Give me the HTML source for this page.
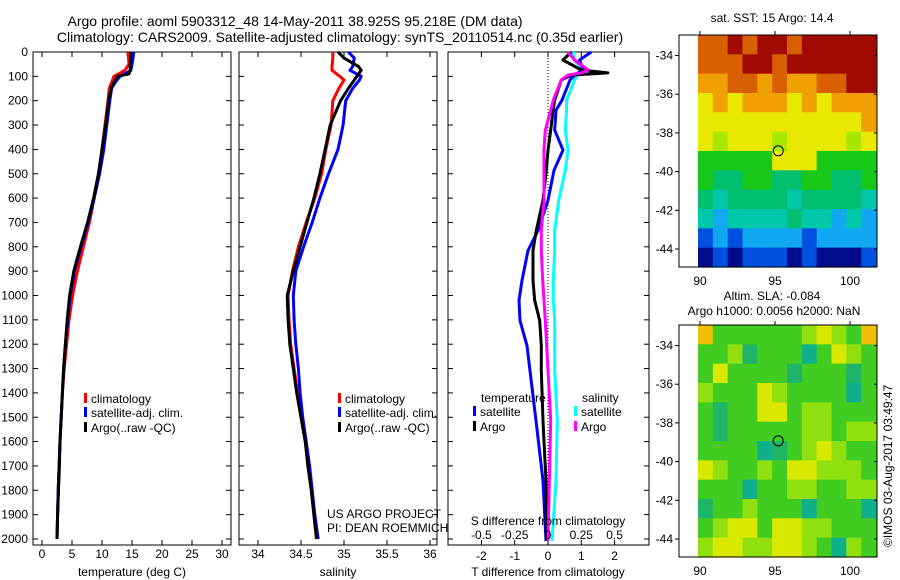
<!DOCTYPE html>
<html><head><meta charset="utf-8"><style>
html,body{margin:0;padding:0;background:#fff;}
svg{display:block;font-family:"Liberation Sans",sans-serif;}
text{font-size:12px;fill:#000;}
</style></head><body>
<svg id="c" width="900" height="580" viewBox="0 0 900 580">
<rect width="900" height="580" fill="#fff"/>
<text x="295" y="26" text-anchor="middle" style="font-size:14px">Argo profile: aoml 5903312_48 14-May-2011 38.925S 95.218E (DM data)</text>
<text x="340" y="42" text-anchor="middle" style="font-size:14px">Climatology: CARS2009. Satellite-adjusted climatology: synTS_20110514.nc (0.35d earlier)</text>
<text x="772" y="22" text-anchor="middle">sat. SST: 15 Argo: 14.4</text>
<text x="772" y="300" text-anchor="middle">Altim. SLA: -0.084</text>
<text x="774" y="315" text-anchor="middle">Argo h1000: 0.0056 h2000: NaN</text>
<text transform="translate(892,547) rotate(-90)">©IMOS 03-Aug-2017 03:49:47</text>
<text x="327" y="518">US ARGO PROJECT</text>
<text x="327" y="532">PI: DEAN ROEMMICH</text>
<g id="g"></g>
</svg>
<script>
// ---- data ----
const depthTicks=[0,100,200,300,400,500,600,700,800,900,1000,1100,1200,1300,1400,1500,1600,1700,1800,1900,2000];
const tempTicks=[0,5,10,15,20,25,30];
const salTicks=[34,34.5,35,35.5,36];
const salTickLabels=["34","34.5","35","35.5","36"];
const dTTicks=[-2,-1,0,1,2];
const dSTicks=[-0.5,-0.25,0,0.25,0.5];
const dSTickLabels=["-0.5","-0.25","0","0.25","0.5"];

const tDepth=[0,20,50,75,90,100,125,150,200,300,400,500,600,700,800,900,1000,1100,1200,1300,1400,1500,1600,1700,1800,1900,2000];
const tArgo=[14.8,14.8,14.7,14.7,14.5,12.6,12.0,11.5,11.1,10.6,10.0,9.4,8.6,7.6,6.4,5.3,4.6,4.2,3.9,3.6,3.4,3.2,3.0,2.9,2.75,2.6,2.5];
const tClim=[14.3,14.4,14.5,13.8,12.8,12.0,11.6,11.2,11.0,10.5,10.0,9.5,8.7,7.9,6.9,5.9,5.1,4.5,4.1,3.7,3.4,3.2,3.0,2.85,2.7,2.6,2.5];
const tSat=[15.3,15.2,15.0,14.8,13.8,13.0,12.2,11.6,11.3,10.8,10.3,9.6,8.7,7.7,6.5,5.4,4.7,4.3,3.9,3.6,3.4,3.2,3.0,2.85,2.7,2.6,2.5];

const sDepth=[0,25,60,75,100,115,150,200,300,400,500,600,700,800,900,1000,1100,1200,1300,1400,1500,1600,1700,1800,1900,2000];
const sArgo=[34.93,35.0,35.17,35.2,35.15,35.12,35.05,34.96,34.84,34.78,34.72,34.65,34.57,34.49,34.41,34.34,34.35,34.37,34.41,34.45,34.5,34.55,34.58,34.62,34.65,34.68];
const sClim=[34.87,34.87,34.86,34.86,34.95,35.0,34.94,34.87,34.85,34.79,34.74,34.66,34.56,34.47,34.40,34.35,34.36,34.38,34.42,34.46,34.5,34.55,34.58,34.62,34.65,34.68];
const sSat=[35.05,35.12,35.1,35.07,35.2,35.18,35.1,35.02,34.99,34.93,34.82,34.72,34.63,34.53,34.44,34.41,34.42,34.44,34.47,34.49,34.52,34.56,34.6,34.63,34.66,34.7];

const dDepth=[0,33,74,86,95,115,198,239,321,403,486,609,733,815,938,1020,1103,1206,1309,1514,1761,2008];
const dTSat=[1.3,0.95,1.05,0.9,0.8,0.66,0.42,0.24,0.2,0.45,0.18,0.0,-0.3,-0.6,-0.78,-0.87,-0.84,-0.63,-0.54,-0.36,-0.15,-0.06];
const dTArgo=[0.7,0.45,1.0,1.8,0.7,0.4,0.2,0.15,0.08,0.0,-0.05,-0.15,-0.35,-0.45,-0.45,-0.4,-0.25,-0.2,-0.2,-0.15,-0.06,-0.05];
const dSSat=[0.19,0.2,0.26,0.24,0.22,0.2,0.14,0.14,0.13,0.15,0.13,0.08,0.05,0.05,0.04,0.04,0.05,0.05,0.05,0.07,0.06,0.03];
const dSArgo=[0.15,0.2,0.3,0.25,0.15,0.1,0.04,0.02,-0.02,-0.03,-0.03,-0.03,-0.05,-0.05,-0.04,-0.03,-0.02,-0.01,0.0,0.02,0.01,0.0];

const latTicks=[-34,-36,-38,-40,-42,-44];
const lonTicks=[90,95,100];
const argoLon=95.218, argoLat=-38.925;
const sstGrid=["aa9a99a99999","aaa99a999999","88aa8a88aa99","787888787888","777777777778","767776777767","555557775555","544554455445","434444344443","323333433232","121222212222","010111010001"];
const slaGrid=["ogggggglylgo","ggltgggTgylg","gyggggtgggtg","lgggylggggTg","gtggyygllggg","gtgggggllgll","ggggTtglylgg","ylgglgyylllg","gggTggllggll","tgglgggTgggT","glyygyyllggg","lyyllyylgTlg"];
const sstPal={'0':'#000c8a','1':'#0050e0','2':'#10a8f0','3':'#00c8a8','4':'#00c070','5':'#18c818','6':'#a8e800','7':'#e8e800','8':'#f0a000','a':'#d86000','9':'#a00a00'};
const slaPal={'g':'#40cc20','l':'#90e010','y':'#d8e800','o':'#f0c000','t':'#20b468','T':'#10b08c'};

// ---- helpers ----
const NS="http://www.w3.org/2000/svg";
const G=document.getElementById('g');
function mk(tag,at,parent){const e=document.createElementNS(NS,tag);for(const k in at)e.setAttribute(k,at[k]);(parent||G).appendChild(e);return e;}
const yTop=52, pxPerM=0.2435;
const yD=d=>yTop+d*pxPerM;
const xT=v=>42+v*6;
const xS=v=>258+(v-34)*86;
const xDT=v=>548+v*33.3;
const xDS=v=>548+v*133.2;

function frame(x0,x1,y0,y1,name){
  const r=mk('rect',{x:x0,y:y0,width:x1-x0,height:y1-y0,fill:'none',stroke:'#000','stroke-width':1});
  
  
}
function depthAxis(x0,x1,labels){
  depthTicks.forEach(d=>{const y=yD(d);
    mk('line',{x1:x0,x2:x0+5,y1:y,y2:y,stroke:'#000'});
    mk('line',{x1:x1-5,x2:x1,y1:y,y2:y,stroke:'#000'});
    if(labels){const t=mk('text',{x:28,y:y+4,'text-anchor':'end'});t.textContent=d;
      
      }
  });
}
function xAxis(ticks,labs,fx,y0,y1,ly,name){
  ticks.forEach((v,i)=>{const x=fx(v);
    mk('line',{x1:x,x2:x,y1:y0,y2:y0+5,stroke:'#000'});
    mk('line',{x1:x,x2:x,y1:y1-5,y2:y1,stroke:'#000'});
    const t=mk('text',{x:x,y:ly,'text-anchor':'middle'});t.textContent=labs[i];
    
    
  });
}
function line(depths,vals,fx,col,name){
  const p=depths.map((d,i)=>fx(vals[i]).toFixed(1)+','+yD(d).toFixed(1)).join(' ');
  const e=mk('polyline',{points:p,fill:'none',stroke:col,'stroke-width':3,'stroke-linejoin':'round'});
  
  
}
function label(x,y,txt,name,anchor){const t=mk('text',{x:x,y:y,'text-anchor':anchor||'start'});t.textContent=txt;
  
  }
function legend(x,y,col,txt,name){
  const r=mk('rect',{x:x,y:y-10,width:3,height:10,fill:col});
  
  
  label(x+7,y,txt,name);
}

// ---- panel 1: temperature ----
frame(33,231,52,545,'temperature-panel-frame');
depthAxis(33,231,true);
xAxis(tempTicks,tempTicks.map(String),xT,52,545,558,'temperature-tick-label');
label(132,576,'temperature (deg C)','temperature-axis-title','middle');
line(tDepth,tClim,xT,'#f00','temp-climatology-line');
line(tDepth,tSat,xT,'#00f','temp-satellite-line');
line(tDepth,tArgo,xT,'#000','temp-argo-line');
legend(84,403,'#f00','climatology','temp-legend-climatology');
legend(84,417,'#00f','satellite-adj. clim.','temp-legend-satellite');
legend(84,432,'#000','Argo(..raw -QC)','temp-legend-argo');

// ---- panel 2: salinity ----
frame(239,437,52,545,'salinity-panel-frame');
depthAxis(239,437,false);
xAxis(salTicks,salTickLabels,xS,52,545,558,'salinity-tick-label');
label(338,576,'salinity','salinity-axis-title','middle');
line(sDepth,sClim,xS,'#f00','sal-climatology-line');
line(sDepth,sSat,xS,'#00f','sal-satellite-line');
line(sDepth,sArgo,xS,'#000','sal-argo-line');
legend(338,403,'#f00','climatology','sal-legend-climatology');
legend(338,417,'#00f','satellite-adj. clim.','sal-legend-satellite');
legend(338,432,'#000','Argo(..raw -QC)','sal-legend-argo');

// ---- panel 3: differences ----
frame(448,649,52,545,'difference-panel-frame');
depthAxis(448,649,false);
mk('line',{x1:548,x2:548,y1:52,y2:545,stroke:'#000','stroke-dasharray':'1,2'});
xAxis(dTTicks,dTTicks.map(String),xDT,52,545,560,'t-diff-tick-label');
label(548,576,'T difference from climatology','t-diff-axis-title','middle');
line(dDepth,dSSat,xDS,'#0ff','sdiff-satellite-line');
line(dDepth,dTSat,xDT,'#00f','tdiff-satellite-line');
line(dDepth,dTArgo,xDT,'#000','tdiff-argo-line');
line(dDepth,dSArgo,xDS,'#f0f','sdiff-argo-line');
dSTicks.forEach((v,i)=>label(xDS(v),539,dSTickLabels[i],'s-diff-tick-label','middle'));
label(548,525,'S difference from climatology','s-diff-axis-title','middle');
label(481,402,'temperature','diff-legend-temperature-header');
legend(473,416,'#00f','satellite','diff-legend-t-satellite');
legend(473,431,'#000','Argo','diff-legend-t-argo');
label(582,402,'salinity','diff-legend-salinity-header');
legend(574,416,'#0ff','satellite','diff-legend-s-satellite');
legend(574,431,'#f0f','Argo','diff-legend-s-argo');

// ---- maps ----
const mX0=679,mX1=877;
const xLon=l=>700+(l-90)*15;
function map(y0,grid,pal,name){
  const yLat=l=>y0+20.5+(-34-l)*19.35;
  const y1=y0+232;
  const gx0=698, gx1=876, rows=grid.length, cols=grid[0].length;
  const cw=(gx1-gx0)/cols, ch=(y1-y0)/rows;
  grid.forEach((row,r)=>{[...row].forEach((c,k)=>{
    const e=mk('rect',{x:(gx0+k*cw).toFixed(2),y:(y0+r*ch).toFixed(2),width:(cw+0.6).toFixed(2),height:(ch+0.6).toFixed(2),fill:pal[c]});
    
    
  });});
  frame(mX0,mX1,y0,y1,name+'-frame');
  latTicks.forEach(l=>{const y=yLat(l);
    mk('line',{x1:mX0-4,x2:mX0,y1:y,y2:y,stroke:'#000'});
    mk('line',{x1:mX1-3,x2:mX1,y1:y,y2:y,stroke:'#000'});
    label(673,y+4,String(l),name+'-lat-label','end');});
  lonTicks.forEach(l=>{const x=xLon(l);
    mk('line',{x1:x,x2:x,y1:y0-4,y2:y0,stroke:'#000'});
    label(x,y1+18,String(l),name+'-lon-label','middle');});
  const c=mk('circle',{cx:xLon(argoLon),cy:yLat(argoLat),r:5,fill:'none',stroke:'#000','stroke-width':1});
  
  
}
map(35,sstGrid,sstPal,'sst-map');
map(325,slaGrid,slaPal,'sla-map');
</script>
</body></html>
